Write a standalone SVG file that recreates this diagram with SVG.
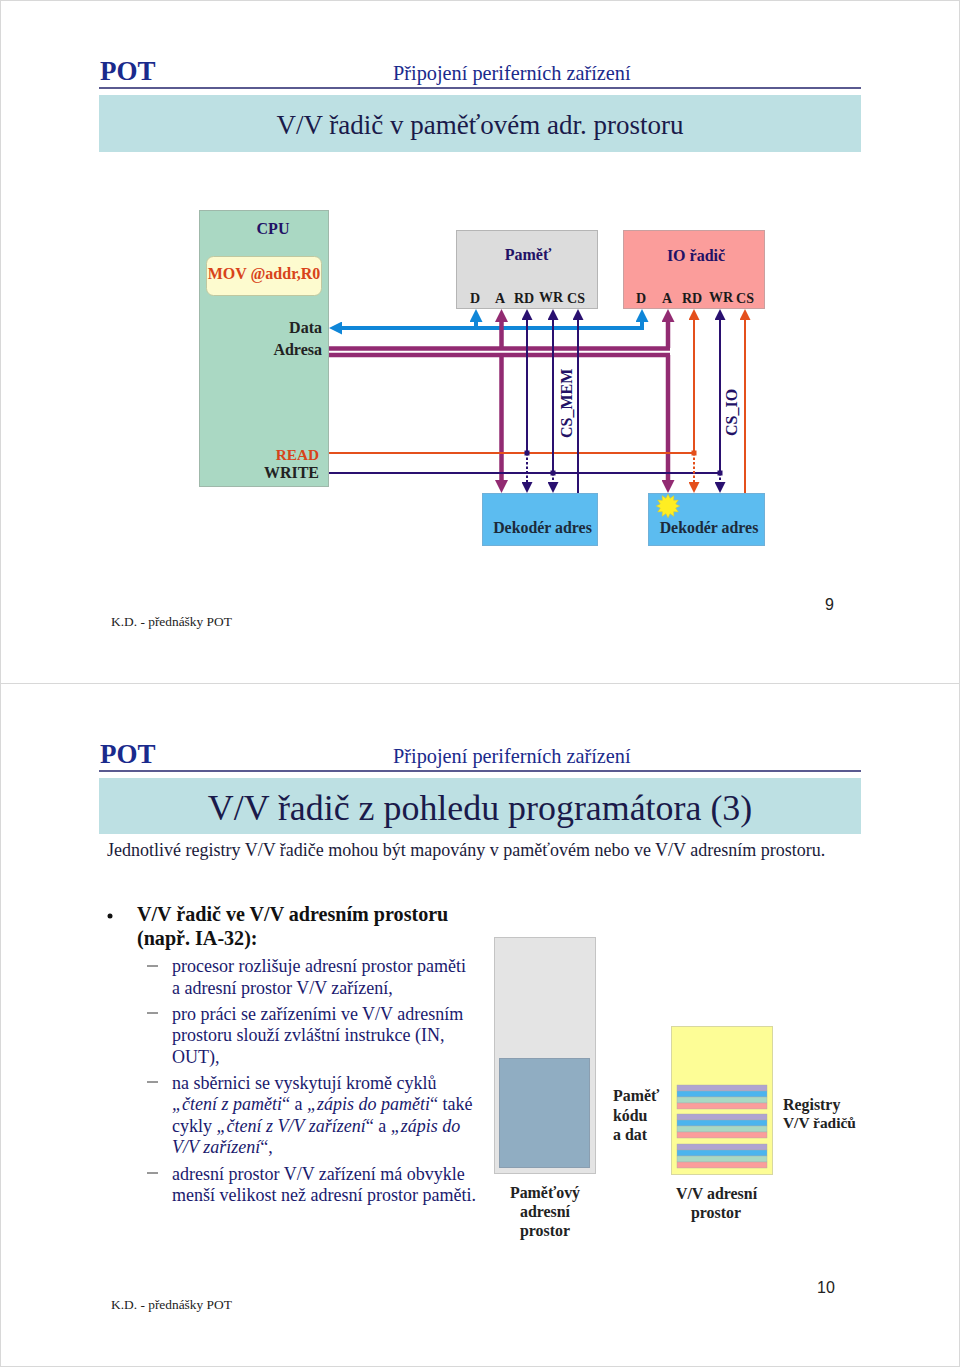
<svg xmlns="http://www.w3.org/2000/svg" width="960" height="1367" viewBox="0 0 960 1367">
<style>
text{font-family:"Liberation Serif","Noto Sans CJK SC",serif}
.b{font-weight:bold}
.s{font-size:14px;font-weight:bold;fill:#1a1a1a}
.d{font-size:15.900px;font-weight:bold;fill:#1c2a3a}
.n{font-size:16px;font-weight:bold;fill:#221166}
.l{font-size:16px;font-weight:bold;fill:#222}
.pot{font-size:27px;font-weight:bold;fill:#1a2a8c}
.sub{font-size:20.300px;fill:#1a2a8c}
.foot{font-size:13.400px;fill:#222}
.hl{stroke:#5a5a90;stroke-width:2}
.t{font-size:18px;fill:#1a1a6e}
.h{font-size:20.100px;font-weight:bold;fill:#111}
.lab{font-size:15.900px;font-weight:bold;fill:#222}
.blue{stroke:#0f86d8;stroke-width:4;fill:none}
.pur{stroke:#922b72;stroke-width:4.500;fill:none}
.thin{stroke:#2a1070;stroke-width:2;fill:none}
.or{stroke:#e4501c;stroke-width:2;fill:none}
.dot{stroke-dasharray:2.500 2}
.gb{stroke:#b5b5b5;stroke-width:1}
</style>
<defs>
<marker id="mb" viewBox="0 0 10 10" refX="0" refY="5" markerWidth="13" markerHeight="13" markerUnits="userSpaceOnUse" orient="auto-start-reverse"><path d="M0 0L10 5L0 10Z" fill="#0f86d8"/></marker>
<marker id="mp" viewBox="0 0 10 10" refX="0" refY="5" markerWidth="13" markerHeight="13" markerUnits="userSpaceOnUse" orient="auto-start-reverse"><path d="M0 0L10 5L0 10Z" fill="#922b72"/></marker>
<marker id="mt" viewBox="0 0 10 10" refX="0" refY="5" markerWidth="11" markerHeight="11" markerUnits="userSpaceOnUse" orient="auto-start-reverse"><path d="M0 0L10 5L0 10Z" fill="#2a1070"/></marker>
<marker id="mo" viewBox="0 0 10 10" refX="0" refY="5" markerWidth="11" markerHeight="11" markerUnits="userSpaceOnUse" orient="auto-start-reverse"><path d="M0 0L10 5L0 10Z" fill="#e4501c"/></marker>
</defs>
<rect width="960" height="1367" fill="#fff"/>
<rect x="0.500" y="0.500" width="959" height="683" fill="#fff" stroke="#d8d8d8"/>
<rect x="0.500" y="683.500" width="959" height="683" fill="#fff" stroke="#d8d8d8"/>

<g id="slide1-header">
<text x="100" y="80" class="pot">POT</text>
<text x="393" y="80" class="sub">Připojení periferních zařízení</text>
<line x1="99" y1="88" x2="861" y2="88" class="hl"/>
<rect x="99" y="95" width="762" height="57" fill="#bde0e3"/>
<text x="480" y="134" text-anchor="middle" font-size="27" fill="#1a1a4a">V/V řadič v paměťovém adr. prostoru</text>
</g>

<g id="cpu">
<rect x="199.500" y="210.500" width="129" height="276" fill="#aad8c3" stroke="#9fb8aa"/>
<text x="273" y="234" text-anchor="middle" class="n">CPU</text>
<rect x="206.500" y="256.500" width="115" height="39" rx="7" fill="#fdfbcf" stroke="#c0c8a0"/>
<text x="264" y="279" text-anchor="middle" class="b" font-size="16" fill="#d8431a">MOV @addr,R0</text>
<text x="322" y="333" text-anchor="end" class="l">Data</text>
<text x="322" y="355" text-anchor="end" class="l">Adresa</text>
<text x="319" y="460" text-anchor="end" class="b" font-size="15.300" fill="#d8431a">READ</text>
<text x="319" y="478" text-anchor="end" class="l">WRITE</text>
</g>
<g id="pamet">
<rect x="456.500" y="230.500" width="141" height="78" fill="#dcdcdc" class="gb"/>
<text x="528" y="260" text-anchor="middle" class="n">Paměť</text>
<text x="475" y="303" text-anchor="middle" class="s">D</text>
<text x="500" y="303" text-anchor="middle" class="s">A</text>
<text x="524" y="303" text-anchor="middle" class="s">RD</text>
<text x="551" y="302" text-anchor="middle" class="s">WR</text>
<text x="576" y="303" text-anchor="middle" class="s">CS</text>
</g>
<g id="io-radic">
<rect x="623.500" y="230.500" width="141" height="78" fill="#fb9d9b" stroke="#c9a0a0"/>
<text x="696" y="261" text-anchor="middle" class="n">IO řadič</text>
<text x="641" y="303" text-anchor="middle" class="s">D</text>
<text x="667" y="303" text-anchor="middle" class="s">A</text>
<text x="692" y="303" text-anchor="middle" class="s">RD</text>
<text x="721" y="302" text-anchor="middle" class="s">WR</text>
<text x="745" y="303" text-anchor="middle" class="s">CS</text>
</g>
<g id="dekoder-1">
<rect x="482.500" y="493.500" width="115" height="52" fill="#5cbcf0" stroke="#70b0d8"/>
<text x="542.500" y="533" text-anchor="middle" class="d">Dekodér adres</text>
</g>
<g id="dekoder-2">
<rect x="648.500" y="493.500" width="116" height="52" fill="#5cbcf0" stroke="#70b0d8"/>
<text x="709" y="533" text-anchor="middle" class="d">Dekodér adres</text>
<polygon points="680,506 675.700,508.100 678.400,512 673.700,511.700 674,516.400 670.100,513.700 668,518 665.900,513.700 662,516.400 662.300,511.700 657.600,512 660.300,508.100 656,506 660.300,503.900 657.600,500 662.300,500.300 662,495.600 665.900,498.300 668,494 670.100,498.300 674,495.600 673.700,500.300 678.400,500 675.700,503.900" fill="#ffee22" stroke="#c8c040" stroke-width="0.500"/>
</g>

<g id="connectors">
<path d="M342 328H642V322" class="blue" marker-start="url(#mb)" marker-end="url(#mb)"/>
<path d="M476 328V322" class="blue" marker-end="url(#mb)"/>
<path d="M329 348.500H670" class="pur"/>
<path d="M329 355H670" class="pur"/>
<path d="M501.500 348V322" class="pur" marker-end="url(#mp)"/>
<path d="M501.500 355V480" class="pur" marker-end="url(#mp)"/>
<path d="M668 348V322" class="pur" marker-end="url(#mp)"/>
<path d="M668 355V480" class="pur" marker-end="url(#mp)"/>
<path d="M329 453H693" class="or"/>
<path d="M329 473H720" class="thin"/>
<path d="M527 453V320" class="thin" marker-end="url(#mt)"/>
<path d="M527 453V482" class="thin dot" marker-end="url(#mt)"/>
<path d="M553 473V320" class="thin" marker-end="url(#mt)"/>
<path d="M553 473V482" class="thin dot" marker-end="url(#mt)"/>
<path d="M578 493V320" class="thin" marker-end="url(#mt)"/>
<path d="M694 453V320" class="or" marker-end="url(#mo)"/>
<path d="M694 453V482" class="or dot" marker-end="url(#mo)"/>
<path d="M720 473V320" class="thin" marker-end="url(#mt)"/>
<path d="M720 473V482" class="thin dot" marker-end="url(#mt)"/>
<path d="M745 493V320" class="or" marker-end="url(#mo)"/>
<rect x="524.500" y="450.500" width="5" height="5" fill="#2a1070"/>
<rect x="550.500" y="470.500" width="5" height="5" fill="#2a1070"/>
<rect x="691.500" y="450.500" width="5" height="5" fill="#e4501c"/>
<rect x="717.500" y="470.500" width="5" height="5" fill="#2a1070"/>
<text transform="translate(572,438) rotate(-90)" class="n">CS_MEM</text>
<text transform="translate(737,436) rotate(-90)" class="n">CS_IO</text>
</g>

<g id="slide1-footer">
<text x="111" y="626" class="foot">K.D. - přednášky POT</text>
<text x="825" y="610" font-size="16" style="font-family:'Liberation Sans',sans-serif" fill="#222">9</text>
</g>

<g id="slide2-header">
<text x="100" y="763" class="pot">POT</text>
<text x="393" y="763" class="sub">Připojení periferních zařízení</text>
<line x1="99" y1="771" x2="861" y2="771" class="hl"/>
<rect x="99" y="778" width="762" height="56" fill="#bde0e3"/>
<text x="480" y="820" text-anchor="middle" font-size="35.900" fill="#1a1a4a">V/V řadič z pohledu programátora (3)</text>
<text x="107" y="856" font-size="18" fill="#1a1a3a">Jednotlivé registry V/V řadiče mohou být mapovány v paměťovém nebo ve V/V adresním prostoru.</text>
</g>

<g id="slide2-text">
<circle cx="110" cy="916" r="2.500" fill="#111"/>
<text x="137" y="921" class="h">V/V řadič ve V/V adresním prostoru</text>
<text x="137" y="945" class="h">(např. IA-32):</text>
<line x1="147" y1="966" x2="158" y2="966" stroke="#333"/>
<text x="172" y="972" class="t">procesor rozlišuje adresní prostor paměti</text>
<text x="172" y="994" class="t">a adresní prostor V/V zařízení,</text>
<line x1="147" y1="1013" x2="158" y2="1013" stroke="#333"/>
<text x="172" y="1020" class="t">pro práci se zařízeními ve V/V adresním</text>
<text x="172" y="1041" class="t">prostoru slouží zvláštní instrukce (IN,</text>
<text x="172" y="1063" class="t">OUT),</text>
<line x1="147" y1="1082" x2="158" y2="1082" stroke="#333"/>
<text x="172" y="1089" class="t">na sběrnici se vyskytují kromě cyklů</text>
<text x="172" y="1110" class="t"><tspan font-style="italic">„čtení z paměti</tspan>“ a <tspan font-style="italic">„zápis do paměti</tspan>“ také</text>
<text x="172" y="1132" class="t">cykly <tspan font-style="italic">„čtení z V/V zařízení</tspan>“ a <tspan font-style="italic">„zápis do</tspan></text>
<text x="172" y="1153" class="t"><tspan font-style="italic">V/V zařízení</tspan>“,</text>
<line x1="147" y1="1173" x2="158" y2="1173" stroke="#333"/>
<text x="172" y="1180" class="t">adresní prostor V/V zařízení má obvykle</text>
<text x="172" y="1201" class="t">menší velikost než adresní prostor paměti.</text>
</g>

<g id="pametovy-prostor">
<rect x="494.500" y="937.500" width="101" height="236" fill="#e4e4e4" stroke="#c4c4c4"/>
<rect x="499.500" y="1058.500" width="90" height="109" fill="#90adc2" stroke="#8a9eb0"/>
<text x="545" y="1198" text-anchor="middle" class="lab">Paměťový</text>
<text x="545" y="1217" text-anchor="middle" class="lab">adresní</text>
<text x="545" y="1236" text-anchor="middle" class="lab">prostor</text>
<text x="613" y="1101" class="lab">Paměť</text>
<text x="613" y="1121" class="lab">kódu</text>
<text x="613" y="1140" class="lab">a dat</text>
</g>

<g id="vv-prostor">
<rect x="671.500" y="1026.500" width="101" height="148" fill="#fdfd96" stroke="#d8d8a0"/>
<g stroke="#aaa" stroke-width="0.400">
<rect x="677" y="1085" width="90" height="6" fill="#b0a4d0"/><rect x="677" y="1091" width="90" height="6" fill="#4cb4ee"/><rect x="677" y="1097" width="90" height="6" fill="#aad8c3"/><rect x="677" y="1103" width="90" height="6" fill="#fb9d9b"/>
<rect x="677" y="1114" width="90" height="6" fill="#b0a4d0"/><rect x="677" y="1120" width="90" height="6" fill="#4cb4ee"/><rect x="677" y="1126" width="90" height="6" fill="#aad8c3"/><rect x="677" y="1132" width="90" height="6" fill="#fb9d9b"/>
<rect x="677" y="1144" width="90" height="6" fill="#b0a4d0"/><rect x="677" y="1150" width="90" height="6" fill="#4cb4ee"/><rect x="677" y="1156" width="90" height="6" fill="#aad8c3"/><rect x="677" y="1162" width="90" height="6" fill="#fb9d9b"/>
</g>
<text x="716.500" y="1199" text-anchor="middle" class="lab">V/V adresní</text>
<text x="716" y="1218" text-anchor="middle" class="lab">prostor</text>
<text x="783" y="1110" class="lab">Registry</text>
<text x="783" y="1128" class="lab" style="font-size:15.400px">V/V řadičů</text>
</g>

<g id="slide2-footer">
<text x="111" y="1309" class="foot">K.D. - přednášky POT</text>
<text x="817" y="1293" font-size="16" style="font-family:'Liberation Sans',sans-serif" fill="#222">10</text>
</g>
</svg>
